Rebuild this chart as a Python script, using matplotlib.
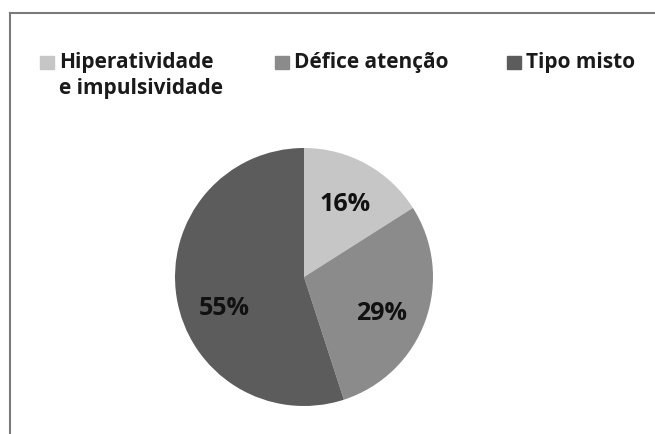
import matplotlib.pyplot as plt
from matplotlib.lines import Line2D
from matplotlib.patches import Rectangle

plt.rcParams['font.family'] = ['Open Sans', 'DejaVu Sans']
plt.rcParams['font.weight'] = 'bold'

labels = ["Hiperatividade\ne impulsividade", "Défice atenção", "Tipo misto"]
values = [16, 29, 55]
colors = ["#c6c6c6", "#8b8b8b", "#5c5c5c"]
legend_x = [40, 275, 507]  # pixel x of legend squares
label_nudge = [(0.0, -0.02), (-0.02, -0.06), (0.03, -0.14)]  # Excel-ish label spots

W, H = 655, 434
fig = plt.figure(figsize=(W / 100, H / 100), dpi=100)

# pie centre (304, 277) px, radius 129 px
cx, cy, r = 304, 277, 129
ax = fig.add_axes([(cx - r) / W, (H - cy - r) / H, 2 * r / W, 2 * r / H])
wedges, texts, autotexts = ax.pie(values, colors=colors, startangle=90,
                                  counterclock=False, autopct='%.0f%%',
                                  pctdistance=0.66,
                                  textprops=dict(fontsize=18, fontweight='bold',
                                                 color='#111111'))
for t, (dx, dy) in zip(autotexts, label_nudge):
    x, y = t.get_position()
    t.set_position((x + dx, y + dy))
ax.set_xlim(-1, 1)
ax.set_ylim(-1, 1)
ax.set_aspect('equal')

# legend drawn by hand
for x, lab, c in zip(legend_x, labels, colors):
    fig.patches.append(Rectangle((x / W, (H - 69) / H), 14 / W, 13 / H,
                                 transform=fig.transFigure, color=c))
    fig.text((x + 19) / W, (H - 52) / H, lab, fontsize=15, fontweight='bold',
             color='#1a1a1a', va='top', ha='left', linespacing=1.3)

# frame lines (top and left)
fig.lines.append(Line2D([10 / W, 1], [(H - 12.5) / H, (H - 12.5) / H],
                        transform=fig.transFigure, color='#7a7a7a', lw=1.5))
fig.lines.append(Line2D([10 / W, 10 / W], [0, (H - 12.5) / H],
                        transform=fig.transFigure, color='#7a7a7a', lw=1.5))

fig.savefig('out.png', dpi=100)
